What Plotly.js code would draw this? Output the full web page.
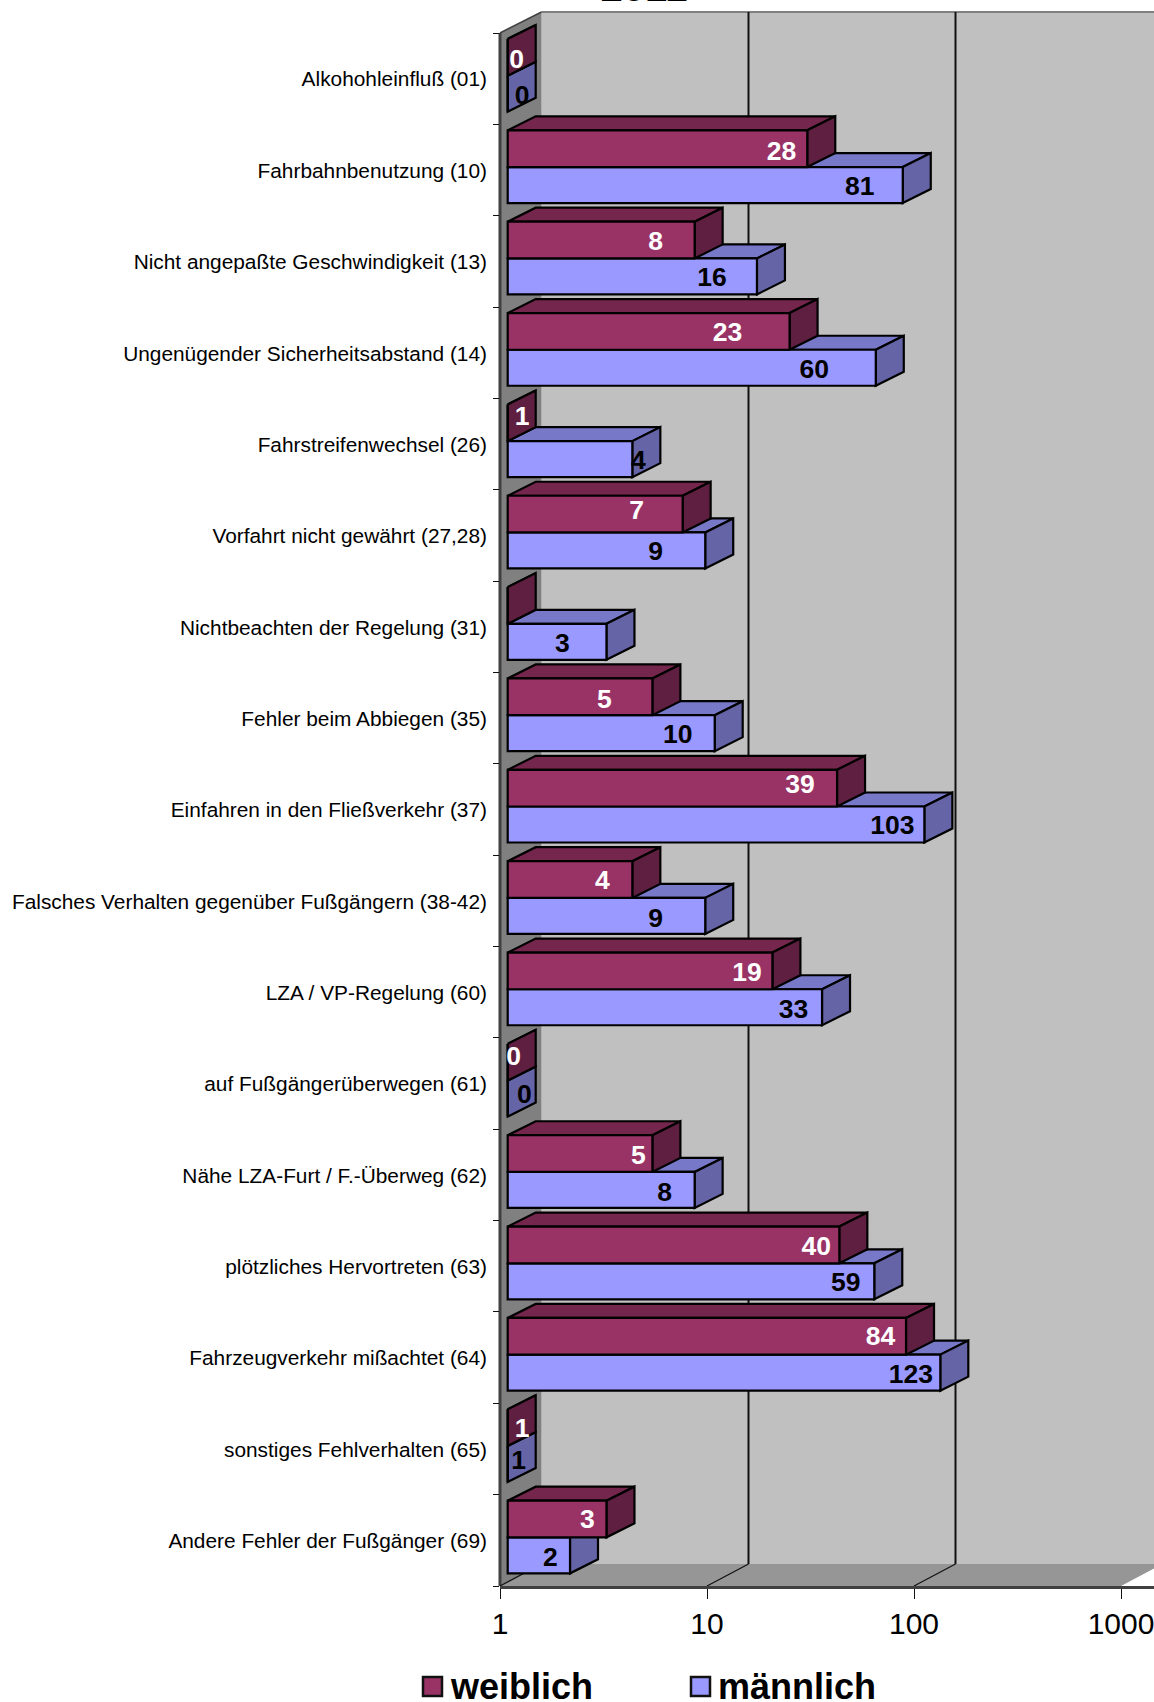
<!DOCTYPE html>
<html><head><meta charset="utf-8">
<script src="https://cdn.plot.ly/plotly-3.0.1.min.js"></script>
<style>html,body{margin:0;padding:0;background:#fff}</style></head>
<body><div id="chart" style="width:1154px;height:1702px"></div>
<script>
// ---------- data ----------
var categories = ["Alkohohleinfluß (01)","Fahrbahnbenutzung (10)","Nicht angepaßte Geschwindigkeit (13)","Ungenügender Sicherheitsabstand (14)","Fahrstreifenwechsel (26)","Vorfahrt nicht gewährt (27,28)","Nichtbeachten der Regelung (31)","Fehler beim Abbiegen (35)","Einfahren in den Fließverkehr (37)","Falsches Verhalten gegenüber Fußgängern (38-42)","LZA / VP-Regelung (60)","auf Fußgängerüberwegen (61)","Nähe LZA-Furt / F.-Überweg (62)","plötzliches Hervortreten (63)","Fahrzeugverkehr mißachtet (64)","sonstiges Fehlverhalten (65)","Andere Fehler der Fußgänger (69)"];
var weiblich = [0,28,8,23,1,7,null,5,39,4,19,0,5,40,84,1,3];
var maennlich = [0,81,16,60,4,9,3,10,103,9,33,0,8,59,123,1,2];
var xTickVals = [1,10,100,1000];
var xTickText = ["1","10","100","1000"];
var seriesNames = ["weiblich","männlich"];
var titleText = "2011";

// ---------- label placement (px back from the bar end; px down from face centre) ----------
var redLabelBack  = [-9,25.7,39,62,-14.5,46,0,48,37,30,25.5,-6,14,23,25.6,-14.5,19];
var blueLabelBack = [-14.5,43,45,61.5,-6,49.5,44,37,32,49.5,28.5,-16.7,30,28.6,29.5,-11,19.6];
var redLabelDown  = [4.4,4.4,3.3,3.3,-4.3,-1.7,0,4.4,-1.7,3.3,3.3,-3.7,3.3,3.3,2.3,2.4,2.3];
var blueLabelDown = [3.6,3.3,3.3,3.3,3.3,3.3,3.3,3.3,3.3,4.4,4.4,-1.8,4.4,3.3,3.3,-1.7,4.4];

// ---------- frame geometry ----------
var W=1154,H=1702,L=500,T=33,B=1586,R=1154,wallTop=12;
var decade=207, rowH=(B-T)/categories.length;
var frontX=7.7, depthX=28, depthY=14;
var wallX=41.5, wallY=22;
var redTop=6, redH=36.7, blueH=36;
var xMax=(R-L)/decade;
function px(x){return (x-L)/(R-L);}
function py(y){return (B-y)/(B-wallTop);}
function poly(pts){return 'M'+pts.map(function(p){return px(p[0])+','+py(p[1]);}).join('L')+'Z';}
function shp(pts,fill,lw,lc){return {type:'path',xref:'paper',yref:'paper',layer:'below',path:poly(pts),fillcolor:fill,line:{width:lw||0,color:lc||fill}};}
function seg(x0,y0,x1,y1,c,w){return {type:'line',xref:'paper',yref:'paper',layer:'below',x0:px(x0),y0:py(y0),x1:px(x1),y1:py(y1),line:{color:c,width:w}};}

var floorBack=B-wallY;
var shapes=[
 shp([[L+wallX,wallTop],[W,wallTop],[W,floorBack],[L+wallX,floorBack]],'#C0C0C0'),
 shp([[L,T],[L+wallX,wallTop],[L+wallX,floorBack],[L,B]],'#808080'),
 shp([[L,B],[L+wallX,floorBack],[W,floorBack],[W,B-(W-L-3*decade)*wallY/wallX],[L+3*decade,B]],'#969696'),
 seg(L+wallX,wallTop,W,wallTop,'#808080',2),
 seg(L,T,L+wallX,wallTop,'#404040',1.5),
 seg(L,T,L,B,'#404040',3)
];
xTickVals.slice(1,3).forEach(function(v){
  var x=L+decade*Math.log10(v);
  shapes.push(seg(x+wallX,wallTop,x+wallX,floorBack,'#111',2));
  shapes.push(seg(x,B,x+wallX,floorBack,'#111',1.2));
});
shapes.push(seg(L,B,L+wallX,floorBack,'#111',1.2));
// legend swatches
var legendX=[423,691];
var swatchColors=['#993366','#9999FF'];
legendX.forEach(function(x,k){
  shapes.push(shp([[x,1677],[x+19,1677],[x+19,1696],[x,1696]],swatchColors[k],2.5,'#111'));
});

// ---------- faces of the boxes, from the same values ----------
var dLogX=depthX/decade, fLogX=frontX/decade, dRow=depthY/rowH;
function drawV(v){return (v===null||v<1)?1:v;}
function faceTraces(vals,top0,h,color,fillTop,fillSide){
  var tx=[],ty=[],sx=[],sy=[];
  vals.forEach(function(v,i){
    var e=Math.log10(drawV(v))+fLogX, yT=i-0.5+top0/rowH, yB=yT+h/rowH;
    var s=fLogX;
    [s,s+dLogX,e+dLogX,e,s].forEach(function(x){tx.push(Math.pow(10,x));}); tx.push(null);
    [yT,yT-dRow,yT-dRow,yT,yT].forEach(function(y){ty.push(y);}); ty.push(null);
    [e,e+dLogX,e+dLogX,e,e].forEach(function(x){sx.push(Math.pow(10,x));}); sx.push(null);
    [yT,yT-dRow,yB-dRow,yB,yT].forEach(function(y){sy.push(y);}); sy.push(null);
  });
  function tr(x,y,c){return {type:'scatter',mode:'lines',x:x,y:y,xaxis:'x',yaxis:'y',fill:'toself',fillcolor:c,line:{color:'#000',width:2.2},hoverinfo:'skip',showlegend:false,connectgaps:false,cliponaxis:false};}
  return [tr(tx,ty,fillTop),tr(sx,sy,fillSide)];
}
function barTrace(name,vals,top0,h,color){
  return {type:'bar',orientation:'h',name:name,xaxis:'x2',yaxis:'y',
    y:vals.map(function(v,i){return i;}),
    x:vals.map(function(v){return drawV(v)-1;}),
    base:vals.map(function(){return 1;}),
    offset:-0.5+top0/rowH,width:h/rowH,
    marker:{color:color,line:{color:'#000',width:2.2}},hoverinfo:'skip',showlegend:false};
}
function labelTrace(vals,back,down,top0,h,color){
  return {type:'scatter',mode:'text',xaxis:'x2',yaxis:'y',cliponaxis:false,
    x:vals.map(function(v,i){return Math.pow(10,Math.log10(drawV(v))-back[i]/decade);}),
    y:vals.map(function(v,i){return i-0.5+(top0+h/2+down[i])/rowH;}),
    text:vals.map(function(v){return v===null?'':String(v);}),
    textposition:'middle center',
    textfont:{family:'Liberation Sans, Arial, sans-serif',size:26.5,color:color,weight:700},
    hoverinfo:'skip',showlegend:false};
}
var blueTop=redTop+redH;
var traces=[]
 .concat(faceTraces(maennlich,blueTop,blueH,'#9999FF','#7878C8','#6464A6'))
 .concat(faceTraces(weiblich,redTop,redH,'#993366','#75264D','#5F1F40'))
 .concat([barTrace(seriesNames[1],maennlich,blueTop,blueH,'#9999FF'),
          barTrace(seriesNames[0],weiblich,redTop,redH,'#993366'),
          labelTrace(maennlich,blueLabelBack,blueLabelDown,blueTop,blueH,'#000'),
          labelTrace(weiblich,redLabelBack,redLabelDown,redTop,redH,'#fff')]);

var fam='Liberation Sans, Arial, sans-serif';
var rows=categories.map(function(c,i){return i;});
var bounds=[-0.5].concat(rows.map(function(i){return i+0.5;}));
var layout={
  width:W,height:H,margin:{l:L,r:0,t:wallTop,b:H-B,pad:0},
  paper_bgcolor:'#fff',plot_bgcolor:'rgba(0,0,0,0)',showlegend:false,barmode:'overlay',
  title:{text:titleText,font:{family:fam,size:40,weight:700,color:'#000'},x:644/W,xanchor:'center',y:1-1/H,yanchor:'bottom'},
  xaxis:{type:'log',range:[0,xMax],tickmode:'array',tickvals:xTickVals,ticktext:xTickText,ticks:'outside',ticklen:10,tickwidth:1,tickcolor:'#111',
    showgrid:false,zeroline:false,showline:true,linecolor:'#404040',linewidth:3,anchor:'y',tickfont:{family:fam,size:30,color:'#000'},ticklabelstandoff:-1,ticklabeloverflow:'allow'},
  xaxis2:{type:'log',overlaying:'x',anchor:'y',range:[-frontX/decade,xMax-frontX/decade],visible:false},
  yaxis:{type:'linear',range:[categories.length-0.5,-0.5-(T-wallTop)/rowH],tickmode:'array',tickvals:rows.map(function(i){return i+0.005;}),ticktext:categories,ticks:'',showgrid:false,zeroline:false,
    showline:false,tickfont:{family:fam,size:20.85,color:'#000'},ticklabelstandoff:12,
    minor:{tickmode:'array',tickvals:bounds,ticks:'outside',ticklen:6,tickwidth:1,tickcolor:'#111',showgrid:false}},
  shapes:shapes,
  annotations:seriesNames.map(function(n,k){return {xref:'paper',yref:'paper',x:px(legendX[k]+25.5),y:py(1700),xanchor:'left',yanchor:'bottom',showarrow:false,text:'<b>'+n+'</b>',font:{family:fam,size:36,color:'#000'},borderpad:0,yshift:-8};})
};
Plotly.newPlot('chart',traces,layout,{displayModeBar:false,staticPlot:true});
</script></body></html>
